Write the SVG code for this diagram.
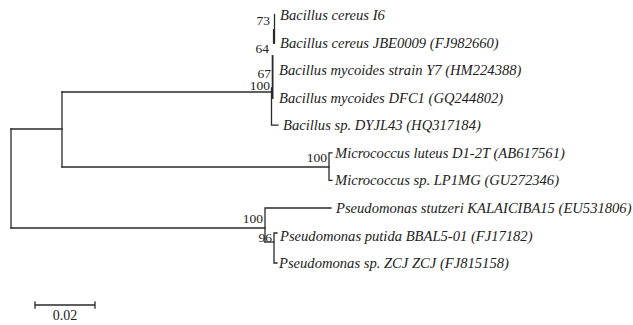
<svg xmlns="http://www.w3.org/2000/svg" width="633" height="325" viewBox="0 0 633 325">
<style>
.br{stroke:#2a2a2a;stroke-width:1.3;fill:none;stroke-linecap:square}
.lf{font-family:"Liberation Serif",serif;font-style:italic;font-size:14.6px;fill:#222}
.bs{font-family:"Liberation Serif",serif;font-size:13.5px;fill:#222;text-anchor:end}
.sc{font-family:"Liberation Serif",serif;font-size:14px;fill:#222;text-anchor:middle}
</style>
<rect width="633" height="325" fill="#fff"/>
<g id="connectors" class="br">
<path d="M11,129V228"/>
<path d="M11,129H62"/>
<path d="M62,92V167"/>
<path d="M62,92H271.5"/>
<path d="M62,167H329"/>
<path d="M274.5,14.5V43"/>
<path d="M273.8,30V43" stroke-width="1.8"/>
<path d="M272.6,56V98" stroke-width="1.8"/>
<path d="M271.5,88V125.2H278"/>
<path d="M332,152.8H329V180.4H332"/>
<path d="M11,228H265"/>
<path d="M265,242V208H331"/>
<path d="M265,242H274"/>
<path d="M277,233H274V263H277"/>
</g>
<g id="bootstrap">
<text class="bs" x="270" y="25">73</text>
<text class="bs" x="269" y="53">64</text>
<text class="bs" x="271" y="77.5">67</text>
<text class="bs" x="270" y="89.5">100</text>
<text class="bs" x="327" y="162">100</text>
<text class="bs" x="263" y="223">100</text>
<text class="bs" x="272" y="242">96</text>
</g>
<g id="leaf1"><text class="lf" x="280" y="20">Bacillus cereus I6</text></g>
<g id="leaf2"><text class="lf" x="280" y="47.6">Bacillus cereus JBE0009 (FJ982660)</text></g>
<g id="leaf3"><text class="lf" x="279" y="75.1">Bacillus mycoides strain Y7 (HM224388)</text></g>
<g id="leaf4"><text class="lf" x="279" y="102.7">Bacillus mycoides DFC1 (GQ244802)</text></g>
<g id="leaf5"><text class="lf" x="283" y="130.2">Bacillus sp. DYJL43 (HQ317184)</text></g>
<g id="leaf6"><text class="lf" x="335" y="157.8">Micrococcus luteus D1-2T (AB617561)</text></g>
<g id="leaf7"><text class="lf" x="335" y="185.4">Micrococcus sp. LP1MG (GU272346)</text></g>
<g id="leaf8"><text class="lf" x="336" y="213">Pseudomonas stutzeri KALAICIBA15 (EU531806)</text></g>
<g id="leaf9"><text class="lf" x="280" y="240.5">Pseudomonas putida BBAL5-01 (FJ17182)</text></g>
<g id="leaf10"><text class="lf" x="279" y="268">Pseudomonas sp. ZCJ ZCJ (FJ815158)</text></g>
<g id="scalebar">
<path class="br" d="M35,305H95M35,302V308M95,302V308"/>
<text class="sc" x="65" y="320">0.02</text>
</g>
</svg>
